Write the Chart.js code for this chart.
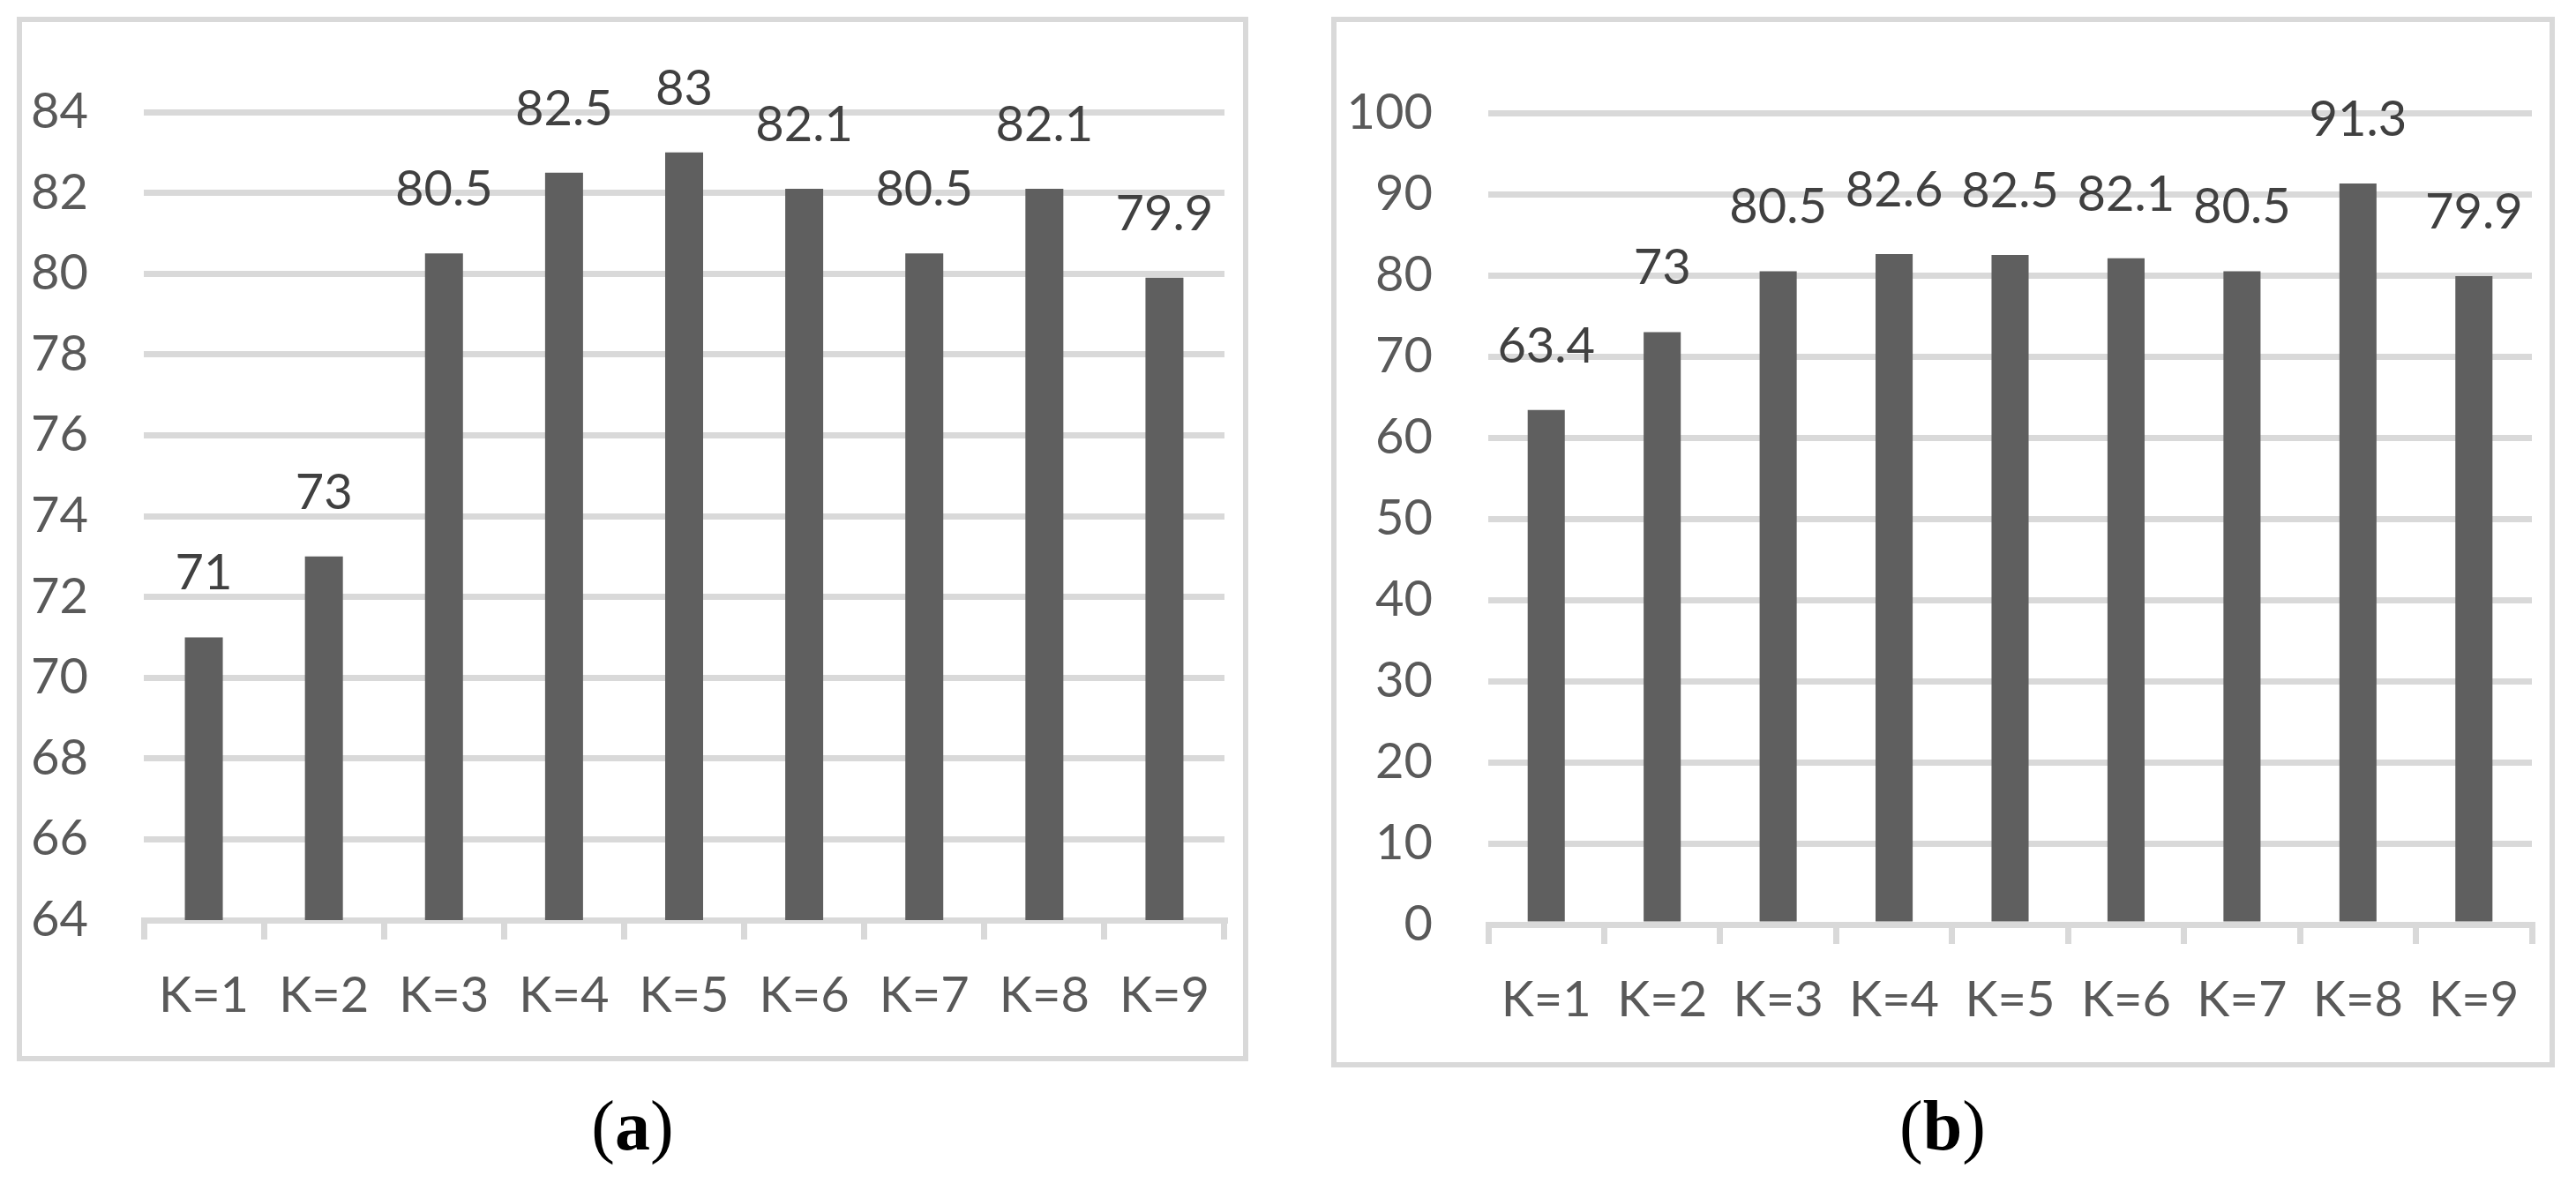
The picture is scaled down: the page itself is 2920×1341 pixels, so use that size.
<!DOCTYPE html>
<html>
<head>
<meta charset="utf-8">
<script src="https://cdn.jsdelivr.net/npm/chart.js@4.4.1/dist/chart.umd.min.js"></script>
<style>
  html, body { margin: 0; padding: 0; background: #fff; }
  body { width: 2920px; height: 1341px; position: relative; overflow: hidden; }
  .panel { position: absolute; border: 6px solid #d9d9d9; box-sizing: border-box; }
  .panel canvas { position: absolute; left: 0; top: 0; }
  .cap { position: absolute; font-family: "Liberation Serif", "Times New Roman", serif; font-size: 80px; line-height: 80px; color: #000; text-align: center; }
  .cap b { font-weight: bold; }
</style>
</head>
<body>
<div class="panel" id="panelA" style="left:19px;top:19px;width:1396px;height:1184px"><canvas id="chartA" width="1384" height="1172"></canvas></div>
<div class="panel" id="panelB" style="left:1509px;top:19px;width:1387px;height:1191px"><canvas id="chartB" width="1375" height="1179"></canvas></div>
<div class="cap" style="left:517px;top:1236px;width:400px">(<b>a</b>)</div>
<div class="cap" style="left:2002px;top:1236px;width:400px">(<b>b</b>)</div>
<script>
// categories and values
const kLabels = ['K=1', 'K=2', 'K=3', 'K=4', 'K=5', 'K=6', 'K=7', 'K=8', 'K=9']
const accA = [71, 73, 80.5, 82.5, 83, 82.1, 80.5, 82.1, 79.9]
const accB = [63.4, 73, 80.5, 82.6, 82.5, 82.1, 80.5, 91.3, 79.9]
// y axis: min, max, step
const axisA = [64, 84, 2]
const axisB = [0, 100, 10]

const GRID = '#d9d9d9'
const BAR = '#5f5f5f'
const FONT = 'Lato, "Noto Sans", sans-serif'

const valueLabels = {
  id: 'valueLabels',
  afterDatasetsDraw(chart) {
    const ctx = chart.ctx
    const meta = chart.getDatasetMeta(0)
    const vals = chart.data.datasets[0].data
    ctx.save()
    ctx.font = '56px ' + FONT
    ctx.fillStyle = '#404040'
    ctx.textAlign = 'center'
    ctx.textBaseline = 'alphabetic'
    meta.data.forEach((bar, i) => {
      ctx.fillText(String(vals[i]), bar.x, bar.y - 54)
    })
    ctx.restore()
  }
}

function makeChart(id, values, axis, box) {
  const ctx = document.getElementById(id).getContext('2d')
  return new Chart(ctx, {
    type: 'bar',
    data: {
      labels: kLabels,
      datasets: [{ data: values, backgroundColor: BAR, borderWidth: 0, categoryPercentage: 1, barPercentage: box.bar }]
    },
    options: {
      responsive: false,
      devicePixelRatio: 1,
      animation: false,
      layout: { padding: { top: box.top, right: box.right, left: 0, bottom: 0 } },
      plugins: { legend: { display: false }, tooltip: { enabled: false } },
      scales: {
        x: {
          offset: true,
          grid: { display: true, drawOnChartArea: false, drawTicks: true, tickLength: 22, color: GRID, lineWidth: 7, offset: true },
          border: { display: true, color: GRID, width: 7 },
          ticks: { font: { family: FONT, size: 56 }, color: '#595959', padding: 30, maxRotation: 0, autoSkip: false },
          afterFit: s => { s.height = box.xh }
        },
        y: {
          min: axis[0], max: axis[1],
          grid: { color: GRID, lineWidth: 7, drawTicks: false },
          border: { display: false },
          ticks: { stepSize: axis[2], font: { family: FONT, size: 56 }, color: '#595959', padding: 63 },
          afterFit: s => { s.width = box.yw }
        }
      }
    },
    plugins: [valueLabels]
  })
}

makeChart('chartA', accA, axisA, { top: 102, right: 21, yw: 138, xh: 154, bar: 0.316 })
makeChart('chartB', accB, axisB, { top: 103, right: 20, yw: 172, xh: 156, bar: 0.32 })
</script>
</body>
</html>
